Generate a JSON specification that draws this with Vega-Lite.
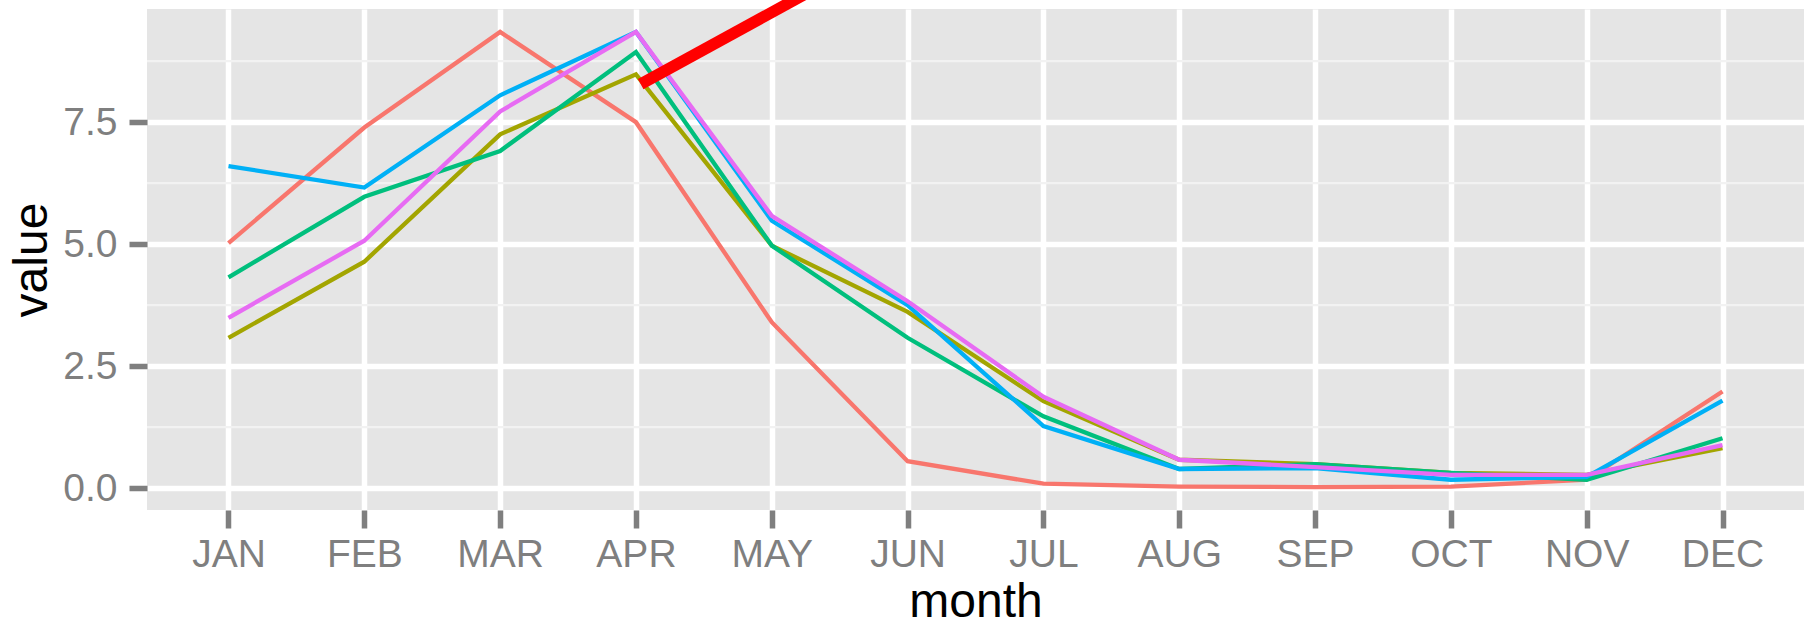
{
  "$schema": "https://vega.github.io/schema/vega-lite/v6.json",
  "autosize": {"type": "none"},
  "width": 1657,
  "height": 501,
  "padding": {"left": 147, "top": 9, "right": 0, "bottom": 113},
  "background": "white",
  "config": {
    "view": {"fill": "#E5E5E5", "stroke": null},
    "font": "Liberation Sans"
  },
  "datasets": {
    "series": [
      {"series": "s1", "month": "JAN", "value": 5.02},
      {"series": "s1", "month": "FEB", "value": 7.39},
      {"series": "s1", "month": "MAR", "value": 9.35},
      {"series": "s1", "month": "APR", "value": 7.50},
      {"series": "s1", "month": "MAY", "value": 3.40},
      {"series": "s1", "month": "JUN", "value": 0.55},
      {"series": "s1", "month": "JUL", "value": 0.09},
      {"series": "s1", "month": "AUG", "value": 0.03},
      {"series": "s1", "month": "SEP", "value": 0.02},
      {"series": "s1", "month": "OCT", "value": 0.03},
      {"series": "s1", "month": "NOV", "value": 0.17},
      {"series": "s1", "month": "DEC", "value": 1.98},
      {"series": "s2", "month": "JAN", "value": 3.08},
      {"series": "s2", "month": "FEB", "value": 4.64},
      {"series": "s2", "month": "MAR", "value": 7.25},
      {"series": "s2", "month": "APR", "value": 8.48},
      {"series": "s2", "month": "MAY", "value": 4.97},
      {"series": "s2", "month": "JUN", "value": 3.61},
      {"series": "s2", "month": "JUL", "value": 1.78},
      {"series": "s2", "month": "AUG", "value": 0.58},
      {"series": "s2", "month": "SEP", "value": 0.49},
      {"series": "s2", "month": "OCT", "value": 0.31},
      {"series": "s2", "month": "NOV", "value": 0.27},
      {"series": "s2", "month": "DEC", "value": 0.82},
      {"series": "s3", "month": "JAN", "value": 4.32},
      {"series": "s3", "month": "FEB", "value": 5.97},
      {"series": "s3", "month": "MAR", "value": 6.91},
      {"series": "s3", "month": "APR", "value": 8.94},
      {"series": "s3", "month": "MAY", "value": 4.97},
      {"series": "s3", "month": "JUN", "value": 3.08},
      {"series": "s3", "month": "JUL", "value": 1.47},
      {"series": "s3", "month": "AUG", "value": 0.39},
      {"series": "s3", "month": "SEP", "value": 0.49},
      {"series": "s3", "month": "OCT", "value": 0.31},
      {"series": "s3", "month": "NOV", "value": 0.17},
      {"series": "s3", "month": "DEC", "value": 1.02},
      {"series": "s4", "month": "JAN", "value": 6.60},
      {"series": "s4", "month": "FEB", "value": 6.16},
      {"series": "s4", "month": "MAR", "value": 8.05},
      {"series": "s4", "month": "APR", "value": 9.35},
      {"series": "s4", "month": "MAY", "value": 5.48},
      {"series": "s4", "month": "JUN", "value": 3.75},
      {"series": "s4", "month": "JUL", "value": 1.27},
      {"series": "s4", "month": "AUG", "value": 0.39},
      {"series": "s4", "month": "SEP", "value": 0.41},
      {"series": "s4", "month": "OCT", "value": 0.17},
      {"series": "s4", "month": "NOV", "value": 0.23},
      {"series": "s4", "month": "DEC", "value": 1.79},
      {"series": "s5", "month": "JAN", "value": 3.49},
      {"series": "s5", "month": "FEB", "value": 5.07},
      {"series": "s5", "month": "MAR", "value": 7.72},
      {"series": "s5", "month": "APR", "value": 9.35},
      {"series": "s5", "month": "MAY", "value": 5.58},
      {"series": "s5", "month": "JUN", "value": 3.83},
      {"series": "s5", "month": "JUL", "value": 1.87},
      {"series": "s5", "month": "AUG", "value": 0.58},
      {"series": "s5", "month": "SEP", "value": 0.43},
      {"series": "s5", "month": "OCT", "value": 0.27},
      {"series": "s5", "month": "NOV", "value": 0.27},
      {"series": "s5", "month": "DEC", "value": 0.88}
    ],
    "minor": [{"v": 1.25}, {"v": 3.75}, {"v": 6.25}, {"v": 8.75}],
    "arrow": [{"x": 3.035, "y": 8.28, "x2": 4.36, "y2": 10.3}]
  },
  "resolve": {"scale": {"x": "independent"}, "axis": {"x": "independent"}},
  "layer": [
    {
      "data": {"name": "minor"},
      "mark": {"type": "rule", "color": "#F2F2F2", "strokeWidth": 2.2},
      "encoding": {
        "y": {
          "field": "v", "type": "quantitative",
          "scale": {"domain": [-0.45, 9.82], "nice": false, "zero": false},
          "axis": {
            "values": [0, 2.5, 5, 7.5], "format": ".1f",
            "domain": false, "grid": true, "gridColor": "white", "gridWidth": 5.5,
            "tickColor": "#7F7F7F", "tickSize": 18, "tickWidth": 5.5,
            "labelColor": "#7F7F7F", "labelFontSize": 39, "labelPadding": 12,
            "title": "value", "titleFontSize": 48, "titleFontWeight": "normal",
            "titleColor": "black", "titlePadding": 6
          }
        }
      }
    },
    {
      "data": {"name": "series"},
      "mark": {"type": "line", "strokeWidth": 4.3},
      "encoding": {
        "x": {
          "field": "month", "type": "ordinal",
          "sort": ["JAN", "FEB", "MAR", "APR", "MAY", "JUN", "JUL", "AUG", "SEP", "OCT", "NOV", "DEC"],
          "scale": {"type": "point", "padding": 0.6},
          "axis": {
            "domain": false, "grid": true, "gridColor": "white", "gridWidth": 5.5,
            "tickColor": "#7F7F7F", "tickSize": 18, "tickWidth": 5.5,
            "labelColor": "#7F7F7F", "labelFontSize": 39, "labelPadding": 7, "labelAngle": 0,
            "title": "month", "titleFontSize": 48, "titleFontWeight": "normal",
            "titleColor": "black", "titlePadding": 4
          }
        },
        "y": {
          "field": "value", "type": "quantitative",
          "scale": {"domain": [-0.45, 9.82], "nice": false, "zero": false},
          "axis": {
            "values": [0, 2.5, 5, 7.5], "format": ".1f",
            "domain": false, "grid": true, "gridColor": "white", "gridWidth": 5.5,
            "tickColor": "#7F7F7F", "tickSize": 18, "tickWidth": 5.5,
            "labelColor": "#7F7F7F", "labelFontSize": 39, "labelPadding": 12,
            "title": "value", "titleFontSize": 48, "titleFontWeight": "normal",
            "titleColor": "black", "titlePadding": 6
          }
        },
        "color": {
          "field": "series", "type": "nominal",
          "scale": {"domain": ["s1", "s2", "s3", "s4", "s5"], "range": ["#F8766D", "#A3A500", "#00BF7D", "#00B0F6", "#E76BF3"]},
          "legend": null
        }
      }
    },
    {
      "data": {"name": "arrow"},
      "mark": {"type": "rule", "color": "#FF0000", "strokeWidth": 11.5, "strokeCap": "butt"},
      "encoding": {
        "x": {"field": "x", "type": "quantitative", "scale": {"domain": [-0.6, 11.6], "nice": false, "zero": false}, "axis": null},
        "x2": {"field": "x2"},
        "y": {"field": "y", "type": "quantitative"},
        "y2": {"field": "y2"}
      }
    }
  ]
}
